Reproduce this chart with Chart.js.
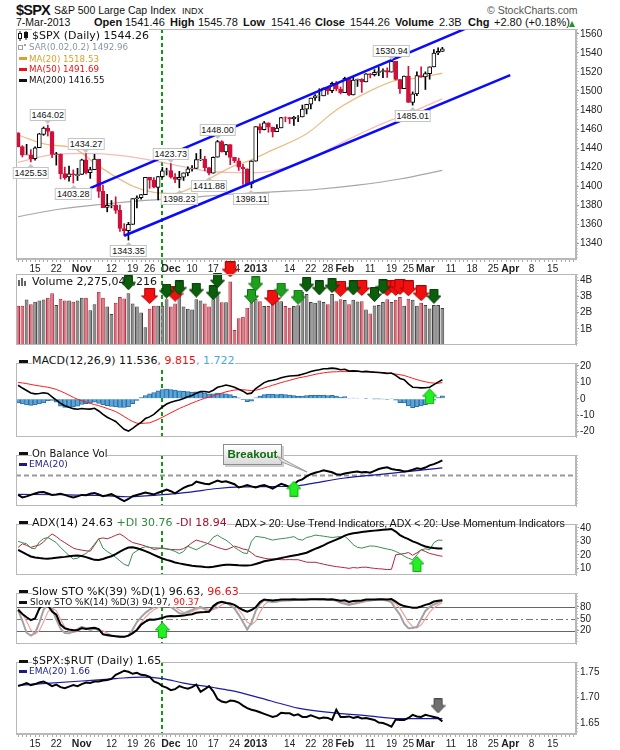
<!DOCTYPE html>
<html>
<head>
<meta charset="utf-8">
<title>$SPX S&amp;P 500 Large Cap Index</title>
<script src="https://cdn.jsdelivr.net/npm/chart.js"></script>
<style>
  body { margin: 0; background: #fff; }
  #wrap { position: relative; width: 620px; height: 750px; overflow: hidden; background: #fff;
          font-family: "Liberation Sans", Arial, sans-serif; color: #111; }
  .abs { position: absolute; white-space: nowrap; }
  .panel { position: absolute; left: 0; width: 620px; }
  .panel canvas { display: block; }
  .hd2 { position: absolute; top: 17px; font-size: 11px; line-height: 11px; white-space: nowrap; }
  .hd2 b { font-weight: bold; }
  .lg { position: absolute; white-space: nowrap; font-family: "DejaVu Sans", Verdana, sans-serif;
        font-size: 11px; line-height: 12px; color: #111; }
  .lg span { background: #fff; }
  .lg.sm { font-size: 8.7px; line-height: 10px; }
  .dash { position: absolute; height: 3px; }
  .pl { position: absolute; transform: translateX(-50%); background: #fff; border: 1px solid #c4c4c4;
        font: 9px/10px "Liberation Sans", Arial, sans-serif; padding: 0 1px; color: #111; white-space: nowrap; }
  .pl.pk::after { content: ''; position: absolute; left: 50%; margin-left: -4px; top: 100%;
        border-left: 4px solid transparent; border-right: 4px solid transparent; border-top: 4px solid #c4c4c4; }
  .pl.tr::before { content: ''; position: absolute; left: 50%; margin-left: -4px; bottom: 100%;
        border-left: 4px solid transparent; border-right: 4px solid transparent; border-bottom: 4px solid #c4c4c4; }
  #breakout { position: absolute; left: 223px; top: 444px; width: 57px; height: 19px; border: 1px solid #8c8c8c;
        background: linear-gradient(#ffffff, #dadada); box-shadow: 2px 2px 0 #cfcfcf;
        font: bold 11.5px/19px "Liberation Sans", Arial, sans-serif; color: #0f6b0f; text-align: center; }
</style>
</head>
<body>
<div id="wrap">
  <!-- header -->
  <div class="abs" style="left:16px;top:2px;font-weight:bold;font-size:14.5px;line-height:16px;letter-spacing:-0.8px;">$SPX</div>
  <div class="abs" style="left:54px;top:4px;font-size:10.5px;line-height:12px;">S&amp;P 500 Large Cap Index</div>
  <div class="abs" style="left:182px;top:5.5px;font-size:9px;line-height:10px;">INDX</div>
  <div class="abs" style="left:487px;top:4px;font-size:10.5px;line-height:12px;color:#555;">&copy; StockCharts.com</div>

  <div class="hd2" style="left:16px;font-size:10.5px;">7-Mar-2013</div>
  <div class="hd2" style="left:94px;"><b>Open</b></div>
  <div class="hd2" style="left:125px;">1541.46</div>
  <div class="hd2" style="left:170px;"><b>High</b></div>
  <div class="hd2" style="left:198px;">1545.78</div>
  <div class="hd2" style="left:243px;"><b>Low</b></div>
  <div class="hd2" style="left:271px;">1541.46</div>
  <div class="hd2" style="left:315px;"><b>Close</b></div>
  <div class="hd2" style="left:350px;">1544.26</div>
  <div class="hd2" style="left:395px;"><b>Volume</b></div>
  <div class="hd2" style="left:439px;">2.3B</div>
  <div class="hd2" style="left:468px;"><b>Chg</b></div>
  <div class="hd2" style="left:494px;">+2.80 (+0.18%)</div>
  <div class="abs" style="left:569px;top:21px;width:0;height:0;border-left:3.5px solid transparent;border-right:3.5px solid transparent;border-bottom:6px solid #1a9a1a;"></div>

  <!-- price panel -->
  <div class="panel" id="pPrice" style="top:29px;height:248px;"><canvas id="cPrice" width="620" height="248"></canvas></div>

  <!-- volume legend sits under the volume canvas so the arrows cover it -->
  <svg class="abs" style="left:18px;top:277px;" width="10" height="9">
    <rect x="0" y="3" width="2" height="6" fill="#666"/><rect x="3" y="1" width="2" height="8" fill="#666"/><rect x="6" y="4" width="2" height="5" fill="#666"/>
  </svg>
  <div class="lg" style="left:32px;top:276px;">Volume 2,275,045,216</div>

  <div class="panel" id="pVol" style="top:258px;height:96px;"><canvas id="cVol" width="620" height="96"></canvas></div>
  <div class="panel" style="top:354px;height:92px;"><canvas id="cMacd" width="620" height="92"></canvas></div>
  <div class="panel" style="top:446px;height:69px;"><canvas id="cObv" width="620" height="69"></canvas></div>
  <div class="panel" style="top:515px;height:69px;"><canvas id="cAdx" width="620" height="69"></canvas></div>
  <div class="panel" style="top:584px;height:69px;"><canvas id="cSto" width="620" height="69"></canvas></div>
  <div class="panel" style="top:653px;height:97px;"><canvas id="cRatio" width="620" height="97"></canvas></div>

  <!-- price legend -->
  <svg class="abs" style="left:18px;top:31px;" width="11" height="10">
    <line x1="2" y1="0" x2="2" y2="10" stroke="#111"/><rect x="0.5" y="2.5" width="3" height="5" fill="#fff" stroke="#111"/>
    <line x1="8" y1="0" x2="8" y2="9" stroke="#111"/><rect x="6.5" y="1.5" width="3" height="5" fill="#111" stroke="#111"/>
  </svg>
  <div class="lg" style="left:32px;top:30px;"><span>$SPX (Daily) 1544.26</span></div>
  <div class="abs" style="left:18px;top:45px;width:3px;height:3px;border:1px solid #9aa0a8;"></div>
  <div class="abs" style="left:24px;top:44px;width:2px;height:2px;background:#9aa0a8;"></div>
  <div class="lg sm" style="left:29px;top:42px;color:#8c96a0;"><span>SAR(0.02,0.2) 1492.96</span></div>
  <div class="dash" style="left:19px;top:57px;width:8px;background:#d9a12e;"></div>
  <div class="lg sm" style="left:29px;top:53.5px;color:#d9a12e;"><span>MA(20) 1518.53</span></div>
  <div class="dash" style="left:19px;top:68px;width:8px;background:#ee1111;"></div>
  <div class="lg sm" style="left:29px;top:64px;color:#ee1111;"><span>MA(50) 1491.69</span></div>
  <div class="dash" style="left:19px;top:79px;width:8px;background:#111;"></div>
  <div class="lg sm" style="left:29px;top:75px;color:#111;"><span>MA(200) 1416.55</span></div>

  <!-- MACD legend -->
  <div class="dash" style="left:19px;top:360px;width:9px;background:#111;"></div>
  <div class="lg" style="left:32px;top:355px;"><span>MACD(12,26,9) 11.536</span><span style="color:#ee1111;">, 9.815</span><span style="color:#44aadd;">, 1.722</span></div>

  <!-- OBV legend -->
  <div class="dash" style="left:19px;top:452px;width:9px;background:#111;"></div>
  <div class="lg" style="left:32px;top:447.5px;font-size:10px;"><span>On Balance Vol</span></div>
  <div class="dash" style="left:19px;top:463px;width:8px;background:#1a1a8c;"></div>
  <div class="lg sm" style="left:29px;top:459px;font-size:9.2px;color:#1a1a8c;"><span>EMA(20)</span></div>
  <div id="breakout">Breakout</div>
  <svg class="abs" style="left:0;top:0;" width="620" height="750">
    <polygon points="277,456 282,462 307,472" fill="#e6e6e6" stroke="#9a9a9a" stroke-width="1"/>
  </svg>

  <!-- ADX legend -->
  <div class="dash" style="left:19px;top:521px;width:9px;background:#111;"></div>
  <div class="lg" style="left:32px;top:517px;"><span>ADX(14) 24.63 </span><span style="color:#2e8b40;">+DI 30.76 </span><span style="color:#a0102a;">-DI 18.94</span></div>
  <div class="abs" style="left:235px;top:517px;font-size:10.6px;line-height:12px;">ADX &gt; 20: Use Trend Indicators, ADX &lt; 20: Use Momentum Indicators</div>

  <!-- STO legend -->
  <div class="dash" style="left:19px;top:590px;width:9px;background:#111;"></div>
  <div class="lg" style="left:32px;top:586px;"><span>Slow STO %K(39) %D(1) 96.63, </span><span style="color:#ee1111;">96.63</span></div>
  <div class="dash" style="left:19px;top:600.5px;width:8px;background:#111;"></div>
  <div class="lg sm" style="left:30px;top:597px;font-size:9px;"><span>Slow STO %K(14) %D(3) 94.97, </span><span style="color:#ee1111;">90.37</span></div>

  <!-- ratio legend -->
  <div class="dash" style="left:19px;top:659.5px;width:9px;background:#111;"></div>
  <div class="lg" style="left:32px;top:655px;"><span>$SPX:$RUT (Daily) 1.65</span></div>
  <div class="dash" style="left:19px;top:670px;width:8px;background:#1a1a8c;"></div>
  <div class="lg sm" style="left:29px;top:666px;font-size:9px;color:#1a1a8c;"><span>EMA(20) 1.66</span></div>
</div>

<script>
// trading days shown on the x axis (Oct 9 2012 .. Mar 7 2013, then future slots)
const dates = [
  '10/09','10/10','10/11','10/12','10/15','10/16','10/17','10/18','10/19','10/22','10/23','10/24','10/25','10/26','10/31',
  '11/01','11/02','11/05','11/06','11/07','11/08','11/09','11/12','11/13','11/14','11/15','11/16','11/19','11/20','11/21','11/23','11/26','11/27','11/28','11/29','11/30',
  '12/03','12/04','12/05','12/06','12/07','12/10','12/11','12/12','12/13','12/14','12/17','12/18','12/19','12/20','12/21','12/24','12/26','12/27','12/28','12/31',
  '01/02','01/03','01/04','01/07','01/08','01/09','01/10','01/11','01/14','01/15','01/16','01/17','01/18','01/22','01/23','01/24','01/25','01/28','01/29','01/30','01/31',
  '02/01','02/04','02/05','02/06','02/07','02/08','02/11','02/12','02/13','02/14','02/15','02/19','02/20','02/21','02/22','02/25','02/26','02/27','02/28',
  '03/01','03/04','03/05','03/06','03/07',
  '03/08','03/11','03/12','03/13','03/14','03/15','03/18','03/19','03/20','03/21','03/22','03/25','03/26','03/27','03/28',
  '04/01','04/02','04/03','04/04','04/05','04/08','04/09','04/10','04/11','04/12','04/15','04/16','04/17','04/18','04/19','04/22'
];

// x tick labels
const xTickLabels = {
  '10/15': '15', '10/22': '22', '11/01': 'Nov', '11/12': '12', '11/19': '19', '11/26': '26',
  '12/03': 'Dec', '12/10': '10', '12/17': '17', '12/24': '24', '01/02': '2013', '01/14': '14',
  '01/22': '22', '01/28': '28', '02/01': 'Feb', '02/11': '11', '02/19': '19', '02/25': '25',
  '03/01': 'Mar', '03/11': '11', '03/18': '18', '03/25': '25', '04/01': 'Apr', '04/08': '8', '04/15': '15'
};
const boldTicks = ['Nov', 'Dec', '2013', 'Feb', 'Mar', 'Apr'];

// y tick labels
const priceTicks = [1340, 1360, 1380, 1400, 1420, 1440, 1460, 1480, 1500, 1520, 1540, 1560];
const volumeTicks = [1, 2, 3, 4];
const macdTicks = [-20, -10, 0, 10, 20];
const adxTicks = [10, 20, 30, 40];
const stoTicks = [20, 50, 80];
const ratioTicks = [1.65, 1.70, 1.75];

// daily OHLC
const opens = [
  1455.90,1441.48,1432.82,1432.84,1428.75,1440.31,1454.22,1460.94,1457.34,1433.21,
  1433.74,1413.20,1409.74,1412.97,1410.99,1412.20,1427.59,1414.02,1417.26,1428.27,
  1394.53,1377.55,1379.86,1380.03,1374.64,1355.41,1353.36,1359.88,1386.82,1387.79,
  1391.03,1409.15,1406.29,1398.77,1409.96,1415.95,1416.34,1409.46,1407.05,1409.43,
  1413.95,1418.07,1418.55,1427.84,1428.48,1419.45,1413.54,1430.47,1446.79,1435.81,
  1443.67,1430.15,1426.66,1419.83,1418.10,1402.43,1426.19,1462.42,1459.37,1466.47,
  1461.89,1457.15,1461.02,1472.12,1472.05,1470.67,1472.33,1472.63,1480.95,1485.98,
  1492.56,1494.81,1494.82,1502.96,1500.18,1507.84,1501.96,1498.11,1513.17,1495.71,
  1511.29,1512.12,1509.39,1517.93,1517.01,1519.43,1520.33,1521.38,1519.79,1530.94,
  1511.95,1502.42,1515.60,1487.85,1496.94,1515.99,1514.68,1518.20,1525.20,1539.79,
  1541.46
];
const highs = [
  1455.90,1442.52,1443.90,1438.43,1441.31,1455.51,1462.20,1464.02,1457.34,1435.46,
  1433.74,1420.04,1421.12,1417.09,1418.76,1428.35,1434.27,1419.90,1433.38,1428.27,
  1401.23,1391.39,1384.87,1388.81,1380.13,1360.62,1362.03,1386.89,1389.77,1391.25,
  1409.16,1409.15,1409.01,1410.31,1419.70,1418.86,1423.73,1413.14,1415.56,1413.95,
  1420.34,1421.64,1434.27,1438.59,1431.36,1419.45,1430.67,1448.00,1447.75,1443.70,
  1443.67,1430.15,1429.42,1422.80,1418.10,1426.74,1462.43,1465.47,1467.94,1466.47,
  1461.89,1464.73,1472.30,1472.75,1472.05,1473.31,1473.96,1485.16,1485.98,1492.56,
  1496.13,1502.27,1503.26,1503.23,1509.35,1509.94,1504.19,1514.41,1513.17,1514.96,
  1512.53,1512.90,1518.31,1518.31,1522.29,1524.69,1523.14,1524.24,1530.94,1530.94,
  1511.95,1515.64,1525.84,1498.99,1520.08,1525.34,1519.99,1525.27,1543.47,1545.25,
  1545.78
];
const lows = [
  1441.18,1430.64,1432.82,1425.53,1427.24,1440.31,1453.35,1452.63,1429.85,1422.06,
  1407.56,1407.10,1405.14,1403.28,1405.95,1412.20,1412.91,1408.13,1417.26,1388.14,
  1377.51,1373.03,1377.19,1371.39,1352.50,1348.05,1343.35,1359.88,1377.04,1386.39,
  1391.03,1397.68,1398.03,1385.43,1409.04,1411.63,1408.46,1403.65,1398.23,1405.93,
  1410.90,1415.64,1418.55,1426.76,1416.00,1411.88,1413.54,1430.47,1435.80,1432.82,
  1422.58,1424.66,1416.43,1401.80,1401.58,1398.11,1426.19,1455.53,1458.99,1456.62,
  1451.64,1457.15,1461.02,1467.58,1465.69,1463.76,1467.60,1472.63,1475.81,1481.16,
  1489.90,1489.46,1494.82,1496.33,1498.09,1500.11,1496.76,1498.11,1495.02,1495.71,
  1504.71,1498.49,1509.39,1513.61,1515.61,1515.93,1514.02,1514.14,1519.79,1511.41,
  1497.29,1502.42,1487.85,1485.01,1494.88,1514.46,1501.48,1512.29,1525.20,1538.11,
  1541.46
];
const closes = [
  1441.48,1432.56,1432.84,1428.59,1440.13,1454.92,1460.91,1457.34,1433.19,1433.82,
  1413.11,1408.75,1412.97,1411.94,1412.16,1427.59,1414.20,1417.26,1428.39,1394.53,
  1377.51,1379.85,1380.03,1374.53,1355.49,1353.33,1359.88,1386.89,1387.81,1391.03,
  1409.15,1406.29,1398.94,1409.93,1415.95,1416.18,1409.46,1407.05,1409.28,1413.94,
  1418.07,1418.55,1427.84,1428.48,1419.45,1413.58,1430.36,1446.79,1435.81,1443.69,
  1430.15,1426.66,1419.83,1418.10,1402.43,1426.19,1462.42,1459.37,1466.47,1461.89,
  1457.15,1461.02,1472.12,1472.05,1470.68,1472.34,1472.63,1480.94,1485.98,1492.56,
  1494.81,1494.82,1502.96,1500.18,1507.84,1501.96,1498.11,1513.17,1495.71,1511.29,
  1512.12,1509.39,1517.93,1517.01,1519.43,1520.33,1521.38,1519.79,1530.94,1511.95,
  1502.42,1515.60,1487.85,1496.94,1515.99,1514.68,1518.20,1525.20,1539.79,1541.46,
  1544.26
];

// moving averages (date, value)
const ma20 = [['10/09',1453.7],['10/18',1443.5],['10/26',1440],['11/07',1421],['11/19',1400],['11/27',1393.5],
  ['12/04',1392.5],['12/12',1403],['12/21',1419.5],['12/31',1427.5],['01/08',1438],['01/18',1455],['01/30',1480],
  ['02/11',1500],['02/20',1511],['02/27',1513.5],['03/07',1518.53]];
const ma50 = [['10/09',1425],['10/18',1432.4],['11/01',1434.4],['11/15',1431.8],['11/30',1424],['12/14',1415.5],
  ['12/31',1414],['01/08',1416],['01/18',1427],['01/30',1442.7],['02/11',1460],['02/21',1473],['02/28',1482],['03/07',1491.69]];
const ma200 = [['10/09',1368],['10/23',1376],['11/08',1381],['11/23',1385],['12/07',1388],['12/21',1391.5],
  ['01/08',1394],['01/23',1396.5],['02/06',1401],['02/21',1407.5],['03/07',1416.55]];

// drawn trend channel
const upperChannel = [['11/05', 1398], ['03/19', 1570.2]];
const lowerChannel = [['11/15', 1347.9], ['04/01', 1516.5]];

// labelled swing highs and lows
const peakLabels = [['10/18',1464.02],['11/02',1434.27],['12/03',1423.73],['12/18',1448.00],['02/19',1530.94]];
const troughLabels = [['10/12',1425.53],['10/26',1403.28],['11/16',1343.35],['12/05',1398.23],['12/14',1411.88],['12/31',1398.11],['02/26',1485.01]];

// volume, billions of shares
const volumes = [
  2.42,2.42,2.80,2.52,2.67,2.74,2.80,2.92,3.20,2.47,
  2.85,2.74,2.74,2.67,2.74,2.92,2.92,2.14,2.52,3.29,
  2.92,2.38,1.92,2.60,2.96,2.87,3.20,2.56,2.38,2.00,
  1.10,2.23,2.42,2.42,2.42,2.82,2.38,2.56,3.11,2.38,
  2.23,2.19,2.82,2.74,2.56,2.38,2.82,3.20,2.63,2.63,
  3.92,0.92,1.65,1.74,2.30,2.80,2.85,2.70,2.40,2.40,
  2.55,2.75,2.70,2.40,2.30,2.40,2.45,3.29,3.14,2.65,
  2.60,2.74,2.65,2.52,3.14,2.70,2.83,2.77,2.52,2.79,
  2.68,2.70,2.19,1.95,2.43,2.47,2.65,2.83,2.65,2.79,
  2.96,2.42,2.85,2.79,2.42,2.60,2.47,2.25,2.47,2.47,
  2.28
];
// signal arrows drawn on the volume panel (date, volume level of arrow centre)
const volArrowsDark = [['11/16',3.84],['11/30',3.33],['12/05',3.52],['12/11',3.39],['12/17',3.22],['12/18',3.96],
  ['01/18',3.72],['01/24',3.52],['01/29',3.66],['02/05',3.52],['02/12',3.11],['02/14',3.58],['03/05',3.0]];
const volArrowsGreen = [['12/31',3.0],['01/02',3.77],['01/10',3.39],['01/16',2.95]];
const volArrowsRed = [['11/26',3.03],['12/04',3.17],['12/21',4.67],['01/08',2.9],['01/31',3.47],['02/07',3.52],
  ['02/15',3.5],['02/20',3.52],['02/21',3.58],['02/25',3.5],['02/28',3.2]];

// MACD(12,26,9)
const macdLine = [
  8.2,6.5,5.0,3.5,3.0,3.2,3.6,3.2,1.2,-0.8,
  -2.8,-4.2,-5.2,-6.0,-6.4,-5.9,-6.2,-6.3,-5.8,-7.4,
  -9.5,-11.2,-12.5,-13.8,-16.2,-18.5,-19.6,-18.0,-16.0,-14.3,
  -12.0,-11.0,-9.5,-7.2,-5.0,-3.2,-2.1,-1.4,-0.7,0.2,
  1.2,2.0,3.4,4.4,4.4,4.0,5.2,7.0,7.6,8.3,
  7.8,7.0,5.8,4.6,3.0,3.4,6.2,8.0,9.8,10.8,
  11.2,11.8,12.8,13.4,13.8,14.0,14.2,14.9,15.6,16.5,
  17.2,17.6,18.2,18.3,18.6,18.3,17.6,17.9,16.8,16.9,
  16.8,16.4,16.6,16.3,16.1,15.9,15.7,15.3,15.6,14.2,
  12.3,11.6,9.0,7.0,6.8,6.6,6.7,7.0,8.6,10.1,
  11.536
];
const macdSignal = [
  9.9,9.6,9.2,8.7,8.2,7.8,7.4,7.0,6.4,5.7,
  4.6,3.5,2.2,0.9,-0.3,-1.2,-2.0,-2.8,-3.5,-4.2,
  -5.0,-5.9,-6.8,-7.8,-9.2,-10.8,-12.4,-13.8,-14.8,-15.0,
  -14.8,-14.6,-13.6,-12.5,-11.2,-9.9,-8.5,-7.2,-5.9,-4.8,
  -3.7,-2.6,-1.6,-0.6,0.3,1.0,1.7,2.6,3.4,4.2,
  4.8,5.3,5.5,5.5,5.2,5.0,5.2,5.8,6.6,7.4,
  8.2,9.0,9.8,10.5,11.2,11.9,12.6,13.1,13.6,14.2,
  14.8,15.3,15.7,16.1,16.3,16.4,16.5,16.5,16.5,16.5,
  16.5,16.4,16.4,16.3,16.2,16.0,15.9,15.7,15.3,15.0,
  14.6,14.1,13.3,12.4,11.6,10.9,10.3,9.8,9.5,9.4,
  9.815
];
const macdHist = [
  -2.5,-3.2,-3.8,-4.0,-3.8,-3.2,-2.5,-1.2,-1.0,-2.0,
  -4.5,-5.2,-5.3,-5.0,-4.5,-3.5,-3.0,-2.6,-2.0,-2.8,
  -3.6,-4.2,-4.6,-4.9,-5.3,-5.3,-4.9,-3.0,-1.0,0.7,
  2.0,3.0,3.8,4.8,5.6,5.8,5.6,5.2,4.8,4.5,
  4.3,4.0,4.2,4.0,3.6,3.0,3.0,3.5,3.2,3.0,
  2.5,1.5,0.5,-0.6,-1.8,-1.4,0.6,1.6,2.5,2.8,
  2.8,2.6,2.8,2.6,2.3,1.9,1.5,1.7,1.9,2.1,
  2.2,2.1,2.2,2.0,2.1,1.7,1.0,1.3,0.3,0.4,
  0.3,0.0,0.2,0.0,-0.1,-0.1,-0.2,-0.4,0.3,-0.8,
  -2.3,-2.5,-4.3,-5.4,-4.8,-4.3,-3.6,-2.8,-0.9,0.7,
  1.722
];
const macdArrow = [['03/04', 1.5]];

// On Balance Volume (relative units)
const obv = [
  1.5,1.17,1.3,1.5,1.7,1.85,1.9,1.7,1.5,1.55,
  1.67,1.5,1.3,1.17,1.3,1.5,1.45,1.65,1.77,1.55,
  1.33,1.45,1.6,1.3,0.95,0.67,0.95,1.33,1.5,1.65,
  1.83,1.7,1.57,1.8,2.0,2.23,2.0,1.7,2.1,2.45,
  2.7,2.85,3.3,3.15,3.0,2.95,3.2,3.45,3.25,3.35,
  3.15,2.95,2.5,2.65,2.85,2.65,2.5,2.7,2.85,2.6,
  2.35,2.7,3.0,2.8,2.55,2.9,3.4,3.6,4.0,4.3,
  4.5,4.65,4.83,4.7,4.57,4.3,4.23,4.4,4.5,4.6,
  4.67,4.55,4.6,4.5,4.75,5.0,5.15,5.23,5.0,4.9,
  4.83,4.67,4.75,4.9,5.1,5.0,5.2,5.5,5.67,5.9,
  6.17
];
const obvEma = [['10/09',1.57],['10/23',1.52],['11/08',1.41],['11/16',1.25],['11/23',1.36],['11/30',1.58],
  ['12/07',1.84],['12/18',2.37],['12/27',2.58],['01/08',2.63],['01/16',2.74],['01/23',3.13],['02/01',3.79],
  ['02/11',4.14],['02/21',4.55],['03/07',5.15]];
const obvBreakoutLevel = 4.17;
const obvArrow = [['01/15', 2.35]];

// ADX(14), +DI, -DI
const adx = [
  23.7,22.0,20.3,18.8,18.0,17.6,17.3,17.2,17.4,17.8,
  18.2,18.5,18.9,19.3,19.6,19.2,18.3,17.3,16.3,16.2,
  16.9,18.0,19.0,20.5,22.3,24.0,25.4,25.6,24.9,23.9,
  22.8,21.4,20.0,18.6,17.3,16.3,15.4,14.4,13.7,13.1,
  12.5,11.9,11.6,11.3,11.0,10.9,11.2,11.8,12.3,12.7,
  12.7,12.5,12.3,12.2,12.2,12.4,13.2,14.2,15.2,15.8,
  16.4,17.0,17.6,18.3,19.0,19.5,20.0,20.8,21.6,23.0,
  24.4,25.6,27.0,28.6,30.0,31.3,32.6,34.2,35.3,35.9,
  36.4,36.9,37.3,37.6,37.9,38.2,38.5,38.8,39.1,37.2,
  34.6,32.9,31.6,30.0,28.8,27.4,26.2,25.4,25.0,24.7,
  24.63
];
const plusDI = [
  30.0,29.0,28.2,25.0,24.5,29.5,32.0,32.8,31.0,29.0,
  25.5,22.5,19.5,17.0,17.5,19.5,21.0,24.0,28.0,31.9,
  25.0,22.5,20.5,18.2,15.5,13.0,11.8,20.9,23.0,25.0,
  26.0,25.5,25.2,25.1,24.8,24.2,23.7,22.5,20.9,22.5,
  26.4,25.0,23.7,25.5,27.3,29.0,33.0,34.6,32.5,30.9,
  28.5,25.5,23.5,21.5,20.9,30.0,33.7,33.2,32.8,31.8,
  30.9,31.5,31.9,32.3,32.8,33.5,31.5,30.9,32.8,33.5,
  34.6,34.2,33.8,33.3,32.8,33.2,33.5,33.7,31.0,27.5,
  25.5,25.0,25.8,26.6,26.4,25.8,25.0,24.3,23.7,22.5,
  21.0,19.0,17.5,16.4,20.0,23.7,24.5,23.7,29.0,30.9,
  30.76
];
const minusDI = [
  25.5,28.2,27.0,25.5,26.5,27.3,29.5,32.8,35.5,33.5,
  31.0,29.0,27.0,25.0,24.0,23.5,23.0,22.7,27.0,31.9,
  32.5,31.9,33.0,34.5,35.5,33.5,31.0,29.1,28.3,27.5,
  26.5,25.5,24.0,24.5,25.1,24.5,24.0,23.8,23.7,24.6,
  26.5,29.0,30.9,30.0,29.1,28.0,26.8,25.5,24.6,23.7,
  25.0,26.4,25.5,24.3,23.7,21.5,19.1,18.3,17.5,17.0,
  16.9,16.7,16.4,16.4,16.5,16.4,16.4,15.5,14.6,14.5,
  14.5,13.8,13.1,12.4,11.8,11.3,10.9,10.5,10.0,10.6,
  10.3,10.8,10.9,10.4,10.0,9.7,9.5,9.1,9.3,20.0,
  20.5,20.9,21.7,19.7,21.5,23.7,22.5,21.0,20.3,19.5,
  18.94
];
const adxArrow = [['02/27', 13.3]];

// Slow stochastics
const stoK39 = [
  72.7,62.0,54.0,46.7,51.1,75.8,88.0,84.0,68.0,60.4,
  35.5,26.0,23.2,21.5,21.4,27.0,24.3,26.0,27.5,24.3,
  10.8,9.5,7.6,6.0,5.0,4.6,7.5,13.9,22.0,35.5,
  43.0,48.0,47.5,49.3,52.0,56.0,57.2,56.5,57.2,58.0,
  60.4,61.5,65.0,66.5,67.0,67.8,82.0,90.0,92.6,90.0,
  88.3,85.1,78.0,72.0,67.8,72.0,79.0,92.0,98.7,97.0,
  96.3,97.0,98.7,98.5,98.7,99.0,98.7,98.5,98.7,99.0,
  99.2,99.0,99.3,98.7,99.2,97.5,95.5,96.5,92.6,94.5,
  95.5,96.0,98.7,98.5,98.7,98.9,99.0,98.5,99.5,93.0,
  86.0,82.0,80.0,78.0,77.7,81.0,85.1,88.0,93.5,95.5,
  96.63
];
const stoK14 = [
  72,45,15,7.6,14,40,72,88,75,48,
  25,14,13.9,18,24,30,26,22,25,22,
  12,8,7.6,6,5,4.6,8,23.2,42,54.1,
  65,72.7,80,82,84,85,80,72,64,63,
  68,72,78,80,74,68,76,88,92,91,
  84,76,60,42,23.2,40,70,88,97,94,
  92,93,96,97,96,97,97,98,98.5,99,
  99,98.5,99,97.5,98,95,90,88,85,88,
  91,93,96,96.5,97,97.5,97.5,96,91.3,75,
  60.4,38,26.2,27,29.4,50,69.7,80,86,91,
  94.97
];
const stoD3 = [
  76,62,44,22,12,20,42,67,78,70,
  49,29,18,15,19,24,27,26,24,23,
  20,14,9,7,6,5,6,12,24,40,
  54,64,73,78,82,84,83,79,72,66,
  65,68,73,77,77,74,73,77,85,90,
  89,84,73,59,42,35,44,66,85,93,
  94,93,94,95,96,97,97,97,98,98.5,
  99,99,99,98,98,97,94,91,88,87,
  88,91,93,95,97,97,97,97,95,88,
  77,60,42,30,27,35,50,66,78,85,
  90.37
];
const stoLevels = [80, 50, 20];
const stoArrow = [['11/29', 21.9]];

// $SPX:$RUT ratio
const spxRut = [
  1.722,1.725,1.728,1.724,1.726,1.729,1.731,1.727,1.722,1.725,
  1.720,1.718,1.721,1.724,1.722,1.726,1.729,1.728,1.731,1.731,
  1.733,1.734,1.736,1.744,1.748,1.752,1.750,1.746,1.748,1.744,
  1.743,1.740,1.731,1.728,1.722,1.719,1.714,1.716,1.722,1.719,
  1.717,1.720,1.725,1.711,1.716,1.722,1.712,1.697,1.692,1.690,
  1.694,1.693,1.690,1.684,1.679,1.676,1.674,1.671,1.668,1.665,
  1.662,1.664,1.670,1.669,1.669,1.665,1.667,1.662,1.662,1.665,
  1.662,1.659,1.661,1.660,1.656,1.676,1.662,1.662,1.663,1.660,
  1.662,1.659,1.660,1.658,1.656,1.651,1.650,1.647,1.643,1.657,
  1.656,1.656,1.660,1.666,1.663,1.662,1.666,1.664,1.662,1.660,
  1.653
];
const spxRutEma = [['10/09',1.7235],['11/01',1.732],['11/13',1.7367],['11/21',1.7396],['11/29',1.7367],['12/06',1.728],
  ['12/17',1.7193],['12/21',1.7136],['01/03',1.6992],['01/10',1.6876],['01/16',1.679],['01/29',1.6703],
  ['02/08',1.6646],['02/21',1.6587],['03/07',1.6587]];
const ratioArrow = [['03/06', 1.6833]];

const markerDate = '11/29';

// ---------------------------------------------------------------
const RED = '#d0103a';
const FONT = '"Liberation Sans", Arial, sans-serif';
const pts = pairs => pairs.map(([d, v]) => ({ x: d, y: v }));

function arrowImage(fill, edge, up, w, h) {
  const c = document.createElement('canvas');
  c.width = w; c.height = h;
  const g = c.getContext('2d');
  const s = Math.round(w * 0.28);
  const head = Math.round(h * 0.5);
  const m = w / 2;
  g.beginPath();
  if (up) {
    g.moveTo(m, 0.5); g.lineTo(w - 0.5, head); g.lineTo(m + s, head); g.lineTo(m + s, h - 0.5);
    g.lineTo(m - s, h - 0.5); g.lineTo(m - s, head); g.lineTo(0.5, head);
  } else {
    g.moveTo(m - s, 0.5); g.lineTo(m + s, 0.5); g.lineTo(m + s, h - head); g.lineTo(w - 0.5, h - head);
    g.lineTo(m, h - 0.5); g.lineTo(0.5, h - head); g.lineTo(m - s, h - head);
  }
  g.closePath();
  g.fillStyle = fill; g.fill();
  g.strokeStyle = edge; g.lineWidth = 1; g.stroke();
  return c;
}
const imgDark = arrowImage('#0b5e0b', '#063f06', false, 15, 15);
const imgGreen = arrowImage('#1ea01e', '#0d700d', false, 15, 15);
const imgRed = arrowImage('#f01010', '#b00000', false, 17, 16);
const imgLime = arrowImage('#22f022', '#12b012', true, 15, 16);
const imgGray = arrowImage('#707070', '#4a4a4a', false, 15, 15);

function arrowSet(pairs, img) {
  return { type: 'line', data: pts(pairs), showLine: false, pointStyle: img, pointRadius: 8,
           clip: false, order: -1 };
}
function lineSet(data, color, width, order, smooth) {
  return { type: 'line', data: data, borderColor: color, borderWidth: width, pointRadius: 0,
           tension: smooth ? 0.4 : 0, cubicInterpolationMode: smooth ? 'monotone' : 'default',
           fill: false, order: order || 0 };
}

// plugins
const framePlugin = {
  id: 'frame',
  afterDatasetsDraw(chart) {
    const { ctx, chartArea: a } = chart;
    ctx.save();
    ctx.strokeStyle = '#b8b8b8'; ctx.lineWidth = 1;
    ctx.strokeRect(Math.round(a.left) + 0.5, Math.round(a.top) + 0.5,
                   Math.round(a.right - a.left) - 1, Math.round(a.bottom - a.top) - 1);
    // dotted strip just right of the plot, as on the original axis
    ctx.strokeStyle = '#c4c4c4'; ctx.setLineDash([1, 2]);
    ctx.beginPath(); ctx.moveTo(Math.round(a.right) + 1.5, a.top); ctx.lineTo(Math.round(a.right) + 1.5, a.bottom); ctx.stroke();
    ctx.restore();
  }
};
const markerPlugin = {
  id: 'marker',
  beforeDatasetsDraw(chart, args, opts) {
    const { ctx, chartArea: a } = chart;
    const x = Math.round(chart.scales.x.getPixelForValue(dates.indexOf(markerDate)));
    ctx.save();
    ctx.strokeStyle = '#119911'; ctx.lineWidth = 2; ctx.setLineDash([4, 3]);
    ctx.beginPath(); ctx.moveTo(x, a.top); ctx.lineTo(x, opts.toBottom ? chart.height : a.bottom); ctx.stroke();
    ctx.restore();
  }
};
const levelsPlugin = {
  id: 'levels',
  beforeDatasetsDraw(chart, args, opts) {
    const { ctx, chartArea: a } = chart;
    (opts.lines || []).forEach(l => {
      const y = Math.round(chart.scales.y.getPixelForValue(l.value)) + 0.5;
      ctx.save();
      ctx.strokeStyle = l.color; ctx.lineWidth = l.width || 1; ctx.setLineDash(l.dash || []);
      ctx.beginPath(); ctx.moveTo(a.left, y); ctx.lineTo(a.right, y); ctx.stroke();
      ctx.restore();
    });
  }
};
const priceLabelPlugin = {
  id: 'priceLabels',
  afterDraw(chart) {
    if (chart.$labelsDone) return;
    chart.$labelsDone = true;
    const host = chart.canvas.parentNode;
    const xs = chart.scales.x, ys = chart.scales.y;
    const add = (d, v, peak) => {
      const el = document.createElement('div');
      el.className = 'pl ' + (peak ? 'pk' : 'tr');
      el.textContent = v.toFixed(2);
      const x = xs.getPixelForValue(dates.indexOf(d));
      const y = ys.getPixelForValue(v);
      el.style.left = x + 'px';
      el.style.top = (peak ? y - 16 : y + 5) + 'px';
      host.appendChild(el);
    };
    peakLabels.forEach(([d, v]) => add(d, v, true));
    troughLabels.forEach(([d, v]) => add(d, v, false));
  }
};

// axes
function xScale(show, h) {
  const s = {
    type: 'category', offset: true, display: show,
    grid: { drawOnChartArea: false, drawTicks: true, tickLength: 3, color: '#aaa', offset: false },
    border: { color: '#b8b8b8' },
    ticks: {
      autoSkip: false, maxRotation: 0, minRotation: 0, padding: 1, color: '#222',
      callback: (v, i) => xTickLabels[dates[i]] || '',
      font: ctx => {
        const lab = xTickLabels[dates[ctx.index]];
        const b = boldTicks.includes(lab);
        return { family: FONT, size: b ? 10.5 : 10, weight: b ? 'bold' : 'normal' };
      }
    }
  };
  if (show) s.afterFit = sc => { sc.height = h; sc.paddingLeft = 0; sc.paddingRight = 0; };
  return s;
}
function yScale(min, max, ticks, fmt, showLabels) {
  return {
    position: 'right', min: min, max: max,
    afterBuildTicks: sc => { sc.ticks = ticks.map(v => ({ value: v })); },
    afterFit: sc => { sc.width = 44; sc.paddingTop = 0; sc.paddingBottom = 0; },
    grid: { drawOnChartArea: false, tickLength: 3, color: '#999' },
    border: { color: '#b8b8b8' },
    ticks: { display: showLabels !== false, padding: 1, color: '#222', font: { family: FONT, size: 10 },
             callback: fmt }
  };
}
function baseOptions(padTop, x, y, plugOpts) {
  return {
    responsive: false, animation: false, events: [],
    layout: { padding: { left: 16, right: 0, top: padTop, bottom: 0 } },
    scales: { x: x, y: y },
    plugins: Object.assign({ legend: { display: false }, tooltip: { enabled: false } }, plugOpts || {})
  };
}
const basePlugins = [framePlugin, markerPlugin, levelsPlugin];

// price
const isDown = i => closes[i] < opens[i];
new Chart(document.getElementById('cPrice'), {
  type: 'bar',
  data: {
    labels: dates,
    datasets: [
      lineSet(pts(upperChannel), '#0a0aff', 2.5, 0),
      lineSet(pts(lowerChannel), '#0a0aff', 2.5, 0),
      { data: opens.map((o, i) => [o, closes[i]]),
        backgroundColor: c => isDown(c.dataIndex) ? RED : '#fff',
        borderColor: c => isDown(c.dataIndex) ? RED : '#000',
        borderWidth: 1, borderSkipped: false, barThickness: 4, grouped: false, order: 1 },
      { data: lows.map((l, i) => [l, highs[i]]),
        backgroundColor: c => isDown(c.dataIndex) ? RED : '#000',
        borderWidth: 0, barThickness: 1, grouped: false, order: 2 },
      lineSet(pts(ma20), 'rgba(228,170,95,0.75)', 1.3, 3, true),
      lineSet(pts(ma50), 'rgba(240,130,130,0.55)', 1.3, 3, true),
      lineSet(pts(ma200), 'rgba(150,150,150,0.85)', 1.2, 3, true)
    ]
  },
  options: baseOptions(0, xScale(true, 18), yScale(1323.5, 1565, priceTicks, v => v), { marker: { toBottom: true } }),
  plugins: basePlugins.concat([priceLabelPlugin])
});

// volume
const volDown = i => closes[i] < (i ? closes[i - 1] : opens[0]);
new Chart(document.getElementById('cVol'), {
  type: 'bar',
  data: {
    labels: dates,
    datasets: [
      { data: volumes, backgroundColor: c => volDown(c.dataIndex) ? '#d4707e' : '#8c8c8c',
        borderColor: c => volDown(c.dataIndex) ? '#b52a3a' : '#404040', borderWidth: 1,
        barPercentage: 0.88, categoryPercentage: 1, order: 1 },
      arrowSet(volArrowsDark, imgDark),
      arrowSet(volArrowsGreen, imgGreen),
      arrowSet(volArrowsRed, imgRed)
    ]
  },
  options: baseOptions(16, xScale(false), yScale(0, 4.38, volumeTicks, v => v + 'B')),
  plugins: basePlugins
});

// MACD
new Chart(document.getElementById('cMacd'), {
  type: 'bar',
  data: {
    labels: dates,
    datasets: [
      lineSet(macdLine, '#000', 1.6, 0),
      lineSet(macdSignal, '#ff1a1a', 1, 0),
      { data: macdHist, backgroundColor: '#5ba6d8', borderColor: '#2c6ea6', borderWidth: 1,
        barPercentage: 1, categoryPercentage: 1, order: 2 },
      arrowSet(macdArrow, imgLime)
    ]
  },
  options: baseOptions(0, xScale(false), yScale(-23.2, 21.7, macdTicks, v => v)),
  plugins: basePlugins
});

// OBV
new Chart(document.getElementById('cObv'), {
  type: 'line',
  data: {
    labels: dates,
    datasets: [
      lineSet(obv, '#000', 2, 0),
      lineSet(pts(obvEma), '#1a1a9c', 1.2, 1, true),
      arrowSet(obvArrow, imgLime)
    ]
  },
  options: baseOptions(0, xScale(false), yScale(0, 6.9, [], v => '', false),
    { levels: { lines: [{ value: obvBreakoutLevel, color: '#999', width: 2, dash: [5, 3] }] } }),
  plugins: basePlugins
});

// ADX
new Chart(document.getElementById('cAdx'), {
  type: 'line',
  data: {
    labels: dates,
    datasets: [
      lineSet(adx, '#000', 2, 0),
      lineSet(plusDI, '#3a8c52', 1, 1),
      lineSet(minusDI, '#b3243f', 1, 1),
      arrowSet(adxArrow, imgLime)
    ]
  },
  options: baseOptions(0, xScale(false), yScale(5.1, 42.8, adxTicks, v => v)),
  plugins: basePlugins
});

// Slow STO
const stoStyles = [{ color: '#666' }, { color: '#777', dash: [7, 3, 2, 3] }, { color: '#666' }];
new Chart(document.getElementById('cSto'), {
  type: 'line',
  data: {
    labels: dates,
    datasets: [
      lineSet(stoK39, '#000', 2, 0),
      lineSet(stoK14, '#a2a2a2', 2, 1),
      lineSet(stoD3, '#f2a0a0', 1.2, 2),
      arrowSet(stoArrow, imgLime)
    ]
  },
  options: baseOptions(0, xScale(false), yScale(-13.4, 114.9, stoTicks, v => v),
    { levels: { lines: stoLevels.map((v, i) => Object.assign({ value: v }, stoStyles[i])) } }),
  plugins: basePlugins
});

// $SPX:$RUT
new Chart(document.getElementById('cRatio'), {
  type: 'line',
  data: {
    labels: dates,
    datasets: [
      lineSet(spxRut, '#000', 2, 0),
      lineSet(pts(spxRutEma), '#1a1aa8', 1.2, 1, true),
      arrowSet(ratioArrow, imgGray)
    ]
  },
  options: baseOptions(0, xScale(true, 16), yScale(1.6287, 1.769, ratioTicks, v => v.toFixed(2))),
  plugins: basePlugins
});
</script>
</body>
</html>
